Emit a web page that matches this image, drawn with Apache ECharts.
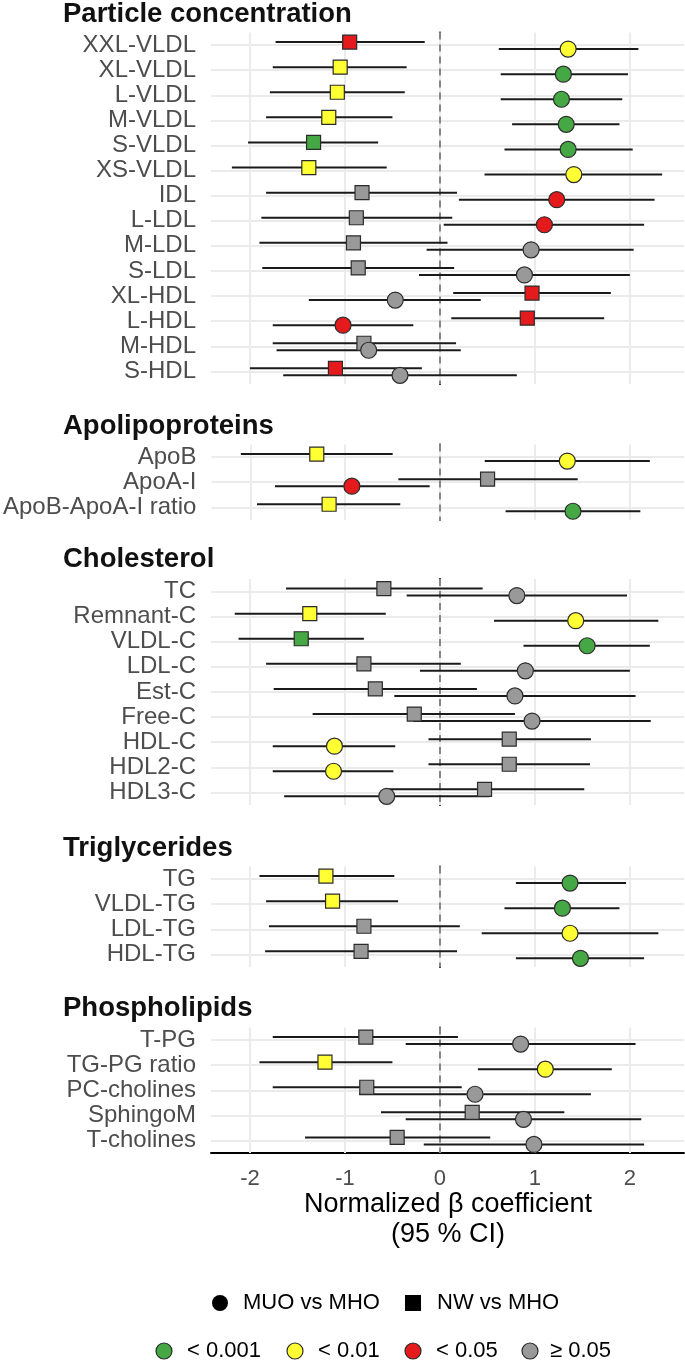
<!DOCTYPE html>
<html>
<head>
<meta charset="utf-8">
<script src="https://cdn.jsdelivr.net/npm/echarts@6/dist/echarts.min.js"></script>
<style>
html,body{margin:0;padding:0;background:#fff;}
#chart{width:685px;height:1361px;}
</style>
</head>
<body>
<div id="chart"></div>
<script>
// ---- DATA ----
const xTicks = [-2, -1, 0, 1, 2];
const xTickLabels = ['-2', '-1', '0', '1', '2'];
const panelTitles = ['Particle concentration', 'Apolipoproteins', 'Cholesterol', 'Triglycerides', 'Phospholipids'];

const pcCats = ['XXL-VLDL','XL-VLDL','L-VLDL','M-VLDL','S-VLDL','XS-VLDL','IDL','L-LDL','M-LDL','S-LDL','XL-HDL','L-HDL','M-HDL','S-HDL'];
const pcNwEst = [-0.95,-1.05,-1.08,-1.17,-1.33,-1.38,-0.82,-0.88,-0.91,-0.86,0.97,0.92,-0.80,-1.10];
const pcNwLo  = [-1.73,-1.76,-1.79,-1.83,-2.02,-2.19,-1.83,-1.88,-1.90,-1.87,0.14,0.12,-1.76,-2.00];
const pcNwHi  = [-0.16,-0.35,-0.37,-0.50,-0.65,-0.56,0.18,0.13,0.08,0.15,1.80,1.73,0.17,-0.19];
const pcNwSig = ['r','y','y','y','g','y','n','n','n','n','r','r','n','r'];
const pcMuoEst = [1.35,1.30,1.28,1.33,1.35,1.41,1.23,1.10,0.96,0.89,-0.47,-1.02,-0.75,-0.42];
const pcMuoLo  = [0.62,0.64,0.64,0.76,0.68,0.47,0.20,0.04,-0.14,-0.22,-1.38,-1.76,-1.72,-1.65];
const pcMuoHi  = [2.09,1.98,1.92,1.89,2.03,2.34,2.26,2.15,2.04,2.00,0.43,-0.28,0.22,0.81];
const pcMuoSig = ['y','g','g','g','g','y','r','r','n','n','n','r','n','n'];

const apoCats = ['ApoB','ApoA-I','ApoB-ApoA-I ratio'];
const apoNwEst = [-1.30,0.50,-1.17];
const apoNwLo  = [-2.10,-0.44,-1.93];
const apoNwHi  = [-0.50,1.45,-0.42];
const apoNwSig = ['y','n','y'];
const apoMuoEst = [1.34,-0.93,1.40];
const apoMuoLo  = [0.47,-1.74,0.69];
const apoMuoHi  = [2.21,-0.11,2.11];
const apoMuoSig = ['y','r','g'];

const chCats = ['TC','Remnant-C','VLDL-C','LDL-C','Est-C','Free-C','HDL-C','HDL2-C','HDL3-C'];
const chNwEst = [-0.59,-1.37,-1.46,-0.80,-0.68,-0.27,0.73,0.73,0.47];
const chNwLo  = [-1.62,-2.16,-2.12,-1.83,-1.75,-1.34,-0.12,-0.12,-0.56];
const chNwHi  = [0.45,-0.57,-0.80,0.22,0.39,0.79,1.59,1.58,1.52];
const chNwSig = ['n','y','g','n','n','n','n','n','n'];
const chMuoEst = [0.81,1.43,1.55,0.90,0.79,0.97,-1.11,-1.12,-0.56];
const chMuoLo  = [-0.35,0.57,0.88,-0.21,-0.48,-0.28,-1.76,-1.76,-1.64];
const chMuoHi  = [1.97,2.30,2.21,2.00,2.06,2.22,-0.47,-0.49,0.52];
const chMuoSig = ['n','y','g','n','n','n','y','y','n'];

const tgCats = ['TG','VLDL-TG','LDL-TG','HDL-TG'];
const tgNwEst = [-1.20,-1.13,-0.80,-0.83];
const tgNwLo  = [-1.90,-1.83,-1.80,-1.84];
const tgNwHi  = [-0.48,-0.44,0.21,0.18];
const tgNwSig = ['y','y','n','n'];
const tgMuoEst = [1.37,1.29,1.37,1.48];
const tgMuoLo  = [0.80,0.68,0.44,0.80];
const tgMuoHi  = [1.96,1.89,2.30,2.15];
const tgMuoSig = ['g','g','y','g'];

const plCats = ['T-PG','TG-PG ratio','PC-cholines','SphingoM','T-cholines'];
const plNwEst = [-0.78,-1.21,-0.77,0.34,-0.45];
const plNwLo  = [-1.76,-1.90,-1.76,-0.62,-1.42];
const plNwHi  = [0.19,-0.50,0.23,1.31,0.53];
const plNwSig = ['n','y','n','n','n'];
const plMuoEst = [0.85,1.11,0.37,0.88,0.99];
const plMuoLo  = [-0.36,0.40,-0.85,-0.36,-0.17];
const plMuoHi  = [2.06,1.81,1.59,2.12,2.15];
const plMuoSig = ['n','y','n','n','n'];

const sigLabels = ['< 0.001', '< 0.01', '< 0.05', '≥ 0.05'];
const groupLabels = ['MUO vs MHO', 'NW vs MHO'];

// ---- STYLE / LAYOUT ----
const sigColors = { g: '#45A845', y: '#FFFF33', r: '#E41A1C', n: '#999999' };
const sigOrder = ['g', 'y', 'r', 'n'];
const FONT = '"Liberation Sans", Arial, Helvetica, sans-serif';
const ROW_H = 25.1;
const X_MIN = -2.41, X_MAX = 2.57;
const GRID_LEFT = 211, GRID_RIGHT = 1;
const panelTops = [32.5, 444.5, 579, 866.5, 1027.5];
const titleY = [14, 426, 559, 848, 1008];
const NW_OFF = -3, MUO_OFF = 4;

const panels = [
  { cats: pcCats, nw: [pcNwEst, pcNwLo, pcNwHi, pcNwSig], muo: [pcMuoEst, pcMuoLo, pcMuoHi, pcMuoSig] },
  { cats: apoCats, nw: [apoNwEst, apoNwLo, apoNwHi, apoNwSig], muo: [apoMuoEst, apoMuoLo, apoMuoHi, apoMuoSig] },
  { cats: chCats, nw: [chNwEst, chNwLo, chNwHi, chNwSig], muo: [chMuoEst, chMuoLo, chMuoHi, chMuoSig] },
  { cats: tgCats, nw: [tgNwEst, tgNwLo, tgNwHi, tgNwSig], muo: [tgMuoEst, tgMuoLo, tgMuoHi, tgMuoSig] },
  { cats: plCats, nw: [plNwEst, plNwLo, plNwHi, plNwSig], muo: [plMuoEst, plMuoLo, plMuoHi, plMuoSig] }
];

const grids = [], xAxes = [], yAxes = [], series = [], graphics = [];
const last = panels.length - 1;

function ciSeries(i, lo, hi, off, z) {
  return {
    type: 'custom', xAxisIndex: i, yAxisIndex: i, z: z, silent: true,
    data: lo.map((v, k) => [v, hi[k], k]),
    encode: { x: [0, 1], y: 2 },
    renderItem: function (params, api) {
      const k = api.value(2);
      const p1 = api.coord([api.value(0), k]);
      const p2 = api.coord([api.value(1), k]);
      return { type: 'line', shape: { x1: p1[0], y1: p1[1] + off, x2: p2[0], y2: p2[1] + off },
               style: { stroke: '#1a1a1a', lineWidth: 2 } };
    }
  };
}
function ptSeries(i, est, sig, symbol, size, off, z) {
  return {
    type: 'scatter', xAxisIndex: i, yAxisIndex: i, z: z, silent: true,
    symbol: symbol, symbolSize: size, symbolOffset: [0, off],
    data: est.map((v, k) => ({ value: [v, k], itemStyle: { color: sigColors[sig[k]] } })),
    itemStyle: { borderColor: '#2b2b2b', borderWidth: 1.2, opacity: 1 }
  };
}

panels.forEach((p, i) => {
  const h = p.cats.length * ROW_H;
  grids.push({ left: GRID_LEFT, right: GRID_RIGHT, top: panelTops[i], height: h, containLabel: false });
  xAxes.push({
    type: 'value', gridIndex: i, min: X_MIN, max: X_MAX,
    axisLine: { show: i === last, onZero: false, lineStyle: { color: '#000', width: 2 } },
    axisTick: { show: false },
    splitLine: { show: false },
    axisLabel: {
      show: i === last, customValues: xTicks, margin: 15,
      formatter: v => { const j = xTicks.indexOf(Math.round(v)); return j >= 0 ? xTickLabels[j] : ''; },
      color: '#4D4D4D', fontSize: 22, fontFamily: FONT
    }
  });
  yAxes.push({
    type: 'category', gridIndex: i, data: p.cats, inverse: true,
    axisLine: { show: true, lineStyle: { color: '#000', width: 2 } },
    axisTick: { show: false },
    splitLine: { show: false },
    axisLabel: { interval: 0, hideOverlap: false, color: '#4D4D4D', fontSize: 24, fontFamily: FONT,
                 margin: 15, padding: [3, 0, 0, 0] }
  });
  // gridlines + zero reference line
  const gl = { color: '#EBEBEB', width: 2, type: 'solid' };
  const mlData = xTicks.map(t => ({ xAxis: t, lineStyle: gl }))
    .concat(p.cats.map(c => ({ yAxis: c, lineStyle: gl })));
  series.push({
    type: 'scatter', xAxisIndex: i, yAxisIndex: i, data: [], z: 1, silent: true,
    markLine: { z: 1, silent: true, symbol: ['none', 'none'], label: { show: false }, animation: false, data: mlData }
  });
  series.push({
    type: 'scatter', xAxisIndex: i, yAxisIndex: i, data: [], z: 2, silent: true,
    markLine: { z: 2, silent: true, symbol: ['none', 'none'], label: { show: false }, animation: false,
      data: [{ xAxis: 0, lineStyle: { color: '#6E6E6E', width: 1.6, type: [7, 5] } }] }
  });
  series.push(ciSeries(i, p.nw[1], p.nw[2], NW_OFF, 3));
  series.push(ciSeries(i, p.muo[1], p.muo[2], MUO_OFF, 3));
  series.push(ptSeries(i, p.nw[0], p.nw[3], 'rect', 14, NW_OFF, 4));
  series.push(ptSeries(i, p.muo[0], p.muo[3], 'circle', 16, MUO_OFF, 5));
  graphics.push({ type: 'text', x: 63, y: titleY[i], silent: true,
    style: { text: panelTitles[i], font: 'bold 27.5px ' + FONT, fill: '#111', verticalAlign: 'middle' } });
});

// axis title
graphics.push({ type: 'text', x: 448, y: 1205, silent: true,
  style: { text: 'Normalized β coefficient', font: '27px ' + FONT, fill: '#000', align: 'center', verticalAlign: 'middle' } });
graphics.push({ type: 'text', x: 448, y: 1235, silent: true,
  style: { text: '(95 % CI)', font: '27px ' + FONT, fill: '#000', align: 'center', verticalAlign: 'middle' } });

// legend row 1: shapes
graphics.push({ type: 'circle', shape: { cx: 220, cy: 1303, r: 8 }, style: { fill: '#000' }, silent: true });
graphics.push({ type: 'text', x: 243, y: 1303, silent: true,
  style: { text: groupLabels[0], font: '22px ' + FONT, fill: '#000', verticalAlign: 'middle' } });
graphics.push({ type: 'rect', shape: { x: 405, y: 1295, width: 16, height: 16 }, style: { fill: '#000' }, silent: true });
graphics.push({ type: 'text', x: 437, y: 1303, silent: true,
  style: { text: groupLabels[1], font: '22px ' + FONT, fill: '#000', verticalAlign: 'middle' } });

// legend row 2: significance colours
const legCx = [164, 295, 413, 530];
const legTx = [187, 318, 436, 550];
sigOrder.forEach((s, j) => {
  graphics.push({ type: 'circle', shape: { cx: legCx[j], cy: 1351, r: 8 },
    style: { fill: sigColors[s], stroke: '#2b2b2b', lineWidth: 1.2 }, silent: true });
  graphics.push({ type: 'text', x: legTx[j], y: 1351, silent: true,
    style: { text: sigLabels[j], font: '22px ' + FONT, fill: '#000', verticalAlign: 'middle' } });
});

const chart = echarts.init(document.getElementById('chart'), null, { renderer: 'canvas' });
chart.setOption({
  animation: false,
  backgroundColor: '#fff',
  grid: grids, xAxis: xAxes, yAxis: yAxes, series: series, graphic: graphics
});
</script>
</body>
</html>
